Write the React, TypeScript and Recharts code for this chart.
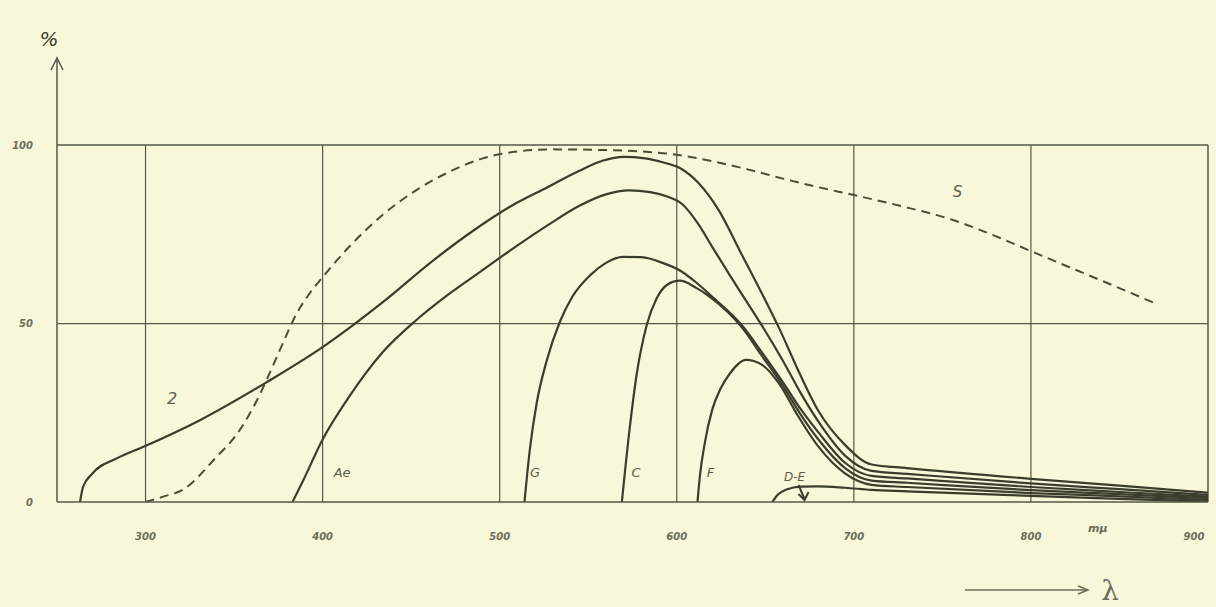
import { LineChart, Line, XAxis, YAxis, ReferenceLine, ReferenceDot } from "recharts"

// wavelength ticks (mμ) and percent ticks
const wavelengthTicks = [300, 400, 500, 600, 700, 800, 900]
const gridWavelengths = [300, 400, 500, 600, 700, 800]
const percentTicks = [0, 50, 100]

// curve S (dashed)
const sNm = [300, 310, 321, 340, 352, 363, 370, 378, 385, 392, 400, 415, 434, 453, 472, 490, 510, 530, 560, 580, 600, 620, 640, 660, 680, 700, 726, 756, 780, 799, 840, 871]
const sPct = [0, 1.5, 3.4, 12.6, 19.3, 28.6, 36, 45, 52.5, 58, 63, 71.5, 80.5, 87.4, 92.6, 96.2, 98.2, 98.8, 98.6, 98.2, 97.3, 95.5, 93.2, 90.6, 88.2, 86, 83, 79, 74.5, 70.5, 62, 55.5]

// curve 2
const c2Nm = [263, 264.7, 270, 284, 298.5, 331, 368.5, 400, 434, 462, 485, 506, 527, 545, 558, 570, 582, 592, 602, 612, 624, 636, 648, 658, 668, 680, 695, 710, 730, 800, 850, 900]
const c2Pct = [0, 4.2, 8, 12.3, 15.4, 23, 33.6, 43.4, 56, 67.5, 76, 82.8, 88.2, 92.8, 95.6, 96.7, 96.3, 95.2, 93.5, 89.5, 81.5, 70, 58.5, 48.5, 37.5, 25.5, 16, 10.5, 9.5, 6.5, 4.6, 2.6]

// curve Ae
const aeNm = [383, 389, 400, 415, 434, 453, 472, 489, 506, 527, 545, 560, 573, 585, 595, 603, 612, 620, 630, 639, 648, 660, 670, 680, 695, 710, 730, 800, 850, 900]
const aePct = [0, 6, 17.5, 29.5, 42, 51, 58.5, 64.5, 70.5, 77.5, 83, 86.2, 87.3, 86.8, 85.5, 83.5, 78, 71.5, 63.5, 56.5, 49.5, 39.5, 30.5, 22.5, 13, 8.7, 7.9, 5.2, 3.6, 2]

// curve G
const gNm = [514, 517, 521, 526.5, 534, 541, 551, 560, 569.5, 580, 592, 602, 611, 620, 637, 648, 660, 670, 680, 695, 710, 730, 800, 850, 900]
const gPct = [0, 14.6, 28, 39.5, 50.5, 57.5, 63.5, 67, 68.7, 68.6, 67, 64.8, 61.5, 57.5, 49.4, 42, 33.5, 26, 19.5, 11, 7.3, 6.6, 4.2, 2.8, 1.5]

// curve C
const cNm = [569, 573.4, 577, 583, 588.6, 595, 601.6, 611, 620, 637, 648, 660, 670, 680, 695, 710, 730, 800, 850, 900]
const cPct = [0, 20.6, 34.6, 49.5, 57, 61, 62, 60, 57, 48.8, 41, 32.5, 24.5, 17.5, 9.5, 6, 5.4, 3.3, 2.2, 1.1]

// curve F
const fNm = [611.7, 613, 616, 620, 625, 630, 639, 648, 658, 668, 680, 695, 710, 730, 800, 850, 900]
const fPct = [0, 7, 17, 25.8, 32, 36, 39.8, 38.5, 33, 24.5, 15.5, 8, 4.8, 4.2, 2.5, 1.6, 0.6]

// curve D-E
const deNm = [654, 657, 662, 670, 680, 695, 710, 730, 800, 850, 900]
const dePct = [0, 2, 3.5, 4.3, 4.4, 4, 3.4, 3, 1.7, 0.9, 0.1]

const paper = "#f9f7da"
const ink = "#3a3d2b"
const gridInk = "#55584a"
const labelInk = "#5c5e4c"
const tickInk = "#6b6c5a"

const toPoints = (nm: number[], pct: number[]) => nm.map((x, i) => ({ x, y: pct[i] }))

const solidCurves = [
  { name: "2", points: toPoints(c2Nm, c2Pct) },
  { name: "Ae", points: toPoints(aeNm, aePct) },
  { name: "G", points: toPoints(gNm, gPct) },
  { name: "C", points: toPoints(cNm, cPct) },
  { name: "F", points: toPoints(fNm, fPct) },
  { name: "D-E", points: toPoints(deNm, dePct) },
]

const curveLabels = [
  { text: "2", x: 315, y: 29, size: 16 },
  { text: "Ae", x: 411, y: 8.4, size: 13 },
  { text: "G", x: 520, y: 8.4, size: 13 },
  { text: "C", x: 577, y: 8.4, size: 13 },
  { text: "F", x: 619, y: 8.4, size: 13 },
  { text: "S", x: 758.5, y: 87, size: 15 },
]

const tickStyle = { fill: tickInk, fontSize: 10, fontStyle: "italic", fontWeight: 600, fontFamily: "DejaVu Sans" }

function XTick(props: any) {
  const { x, y, payload } = props
  const shift = payload.value === 900 ? -10 : 0
  return (
    <text x={x + shift} y={y} dy="0.71em" textAnchor="middle" {...tickStyle}>
      {payload.value}
    </text>
  )
}

function YArrow(props: any) {
  const vb = props.viewBox || { x: 17, y: 58, width: 40 }
  const ax = vb.x + vb.width
  const top = vb.y
  return (
    <g>
      <path d={`M${ax - 6},${top + 12} L${ax},${top} L${ax + 6},${top + 12}`} fill="none" stroke={gridInk} strokeWidth={1.5} />
      <text x={ax - 8} y={top - 12} fontSize={20} fontFamily="DejaVu Sans" fontStyle="italic" fill={ink} textAnchor="middle">
        %
      </text>
    </g>
  )
}

function XUnit(props: any) {
  const vb = props.viewBox || { x: 57, y: 502, width: 1151 }
  const right = vb.x + vb.width
  const y = vb.y
  return (
    <g>
      <text x={right - 120} y={y + 30} fontSize={11} fontFamily="DejaVu Sans" fontStyle="italic" fontWeight={600} fill={tickInk}>
        mμ
      </text>
      <line x1={right - 243} y1={y + 88} x2={right - 122} y2={y + 88} stroke={tickInk} strokeWidth={1.5} />
      <path d={`M${right - 130},${y + 84} L${right - 120},${y + 88} L${right - 130},${y + 92}`} fill="none" stroke={tickInk} strokeWidth={1.5} />
      <text x={right - 98} y={y + 98} fontSize={28} fontFamily="DejaVu Serif" fill={tickInk} textAnchor="middle">
        λ
      </text>
    </g>
  )
}

function DeLabel(props: any) {
  const vb = props.viewBox || { x: 0, y: 0 }
  const cx = vb.cx ?? vb.x
  const cy = vb.cy ?? vb.y
  return (
    <g>
      <text x={cx} y={cy + 4} fontSize={12} fontFamily="DejaVu Sans" fontStyle="italic" fill={labelInk} textAnchor="middle">
        D-E
      </text>
      <line x1={cx + 4} y1={cy + 8} x2={cx + 10} y2={cy + 22} stroke={ink} strokeWidth={2} />
      <path d={`M${cx + 4},${cy + 17} L${cx + 10},${cy + 23} L${cx + 14},${cy + 15}`} fill="none" stroke={ink} strokeWidth={2} />
    </g>
  )
}

export default function App() {
  return (
    <div style={{ position: "absolute", left: 0, top: 0, width: 1216, height: 607, background: paper }}>
      <LineChart width={1216} height={607} margin={{ top: 58, right: 8, bottom: 65, left: 17 }}>
        <XAxis
          dataKey="x"
          type="number"
          domain={[250, 900]}
          ticks={wavelengthTicks}
          allowDataOverflow
          axisLine={{ stroke: gridInk, strokeWidth: 1.5 }}
          tickLine={false}
          tickSize={0}
          tickMargin={31}
          tick={<XTick />}
          height={40}
          label={<XUnit />}
        />
        <YAxis
          type="number"
          domain={[0, 124.4]}
          ticks={percentTicks}
          allowDataOverflow
          axisLine={{ stroke: gridInk, strokeWidth: 1.5 }}
          tickLine={false}
          tickSize={0}
          tickMargin={24}
          tick={tickStyle}
          width={40}
          label={<YArrow />}
        />
        {gridWavelengths.map((w) => (
          <ReferenceLine key={w} segment={[{ x: w, y: 0 }, { x: w, y: 100 }]} stroke={gridInk} strokeWidth={1.2} />
        ))}
        <ReferenceLine segment={[{ x: 900, y: 0 }, { x: 900, y: 100 }]} stroke={gridInk} strokeWidth={1.5} />
        <ReferenceLine y={50} stroke={gridInk} strokeWidth={1.2} />
        <ReferenceLine y={100} stroke={gridInk} strokeWidth={1.5} />
        <Line
          data={toPoints(sNm, sPct)}
          dataKey="y"
          type="monotone"
          stroke="#4a4d38"
          strokeWidth={2}
          strokeDasharray="9 6"
          dot={false}
          isAnimationActive={false}
        />
        {solidCurves.map((c) => (
          <Line
            key={c.name}
            data={c.points}
            dataKey="y"
            name={c.name}
            type="monotone"
            stroke={ink}
            strokeWidth={2.2}
            dot={false}
            isAnimationActive={false}
          />
        ))}
        {curveLabels.map((l) => (
          <ReferenceDot
            key={l.text}
            x={l.x}
            y={l.y}
            r={0}
            fill="none"
            stroke="none"
            label={{ value: l.text, position: "center", fill: labelInk, fontSize: l.size, fontStyle: "italic", fontFamily: "DejaVu Sans" }}
          />
        ))}
        <ReferenceDot x={666.5} y={7} r={0} fill="none" stroke="none" label={<DeLabel />} />
      </LineChart>
    </div>
  )
}
